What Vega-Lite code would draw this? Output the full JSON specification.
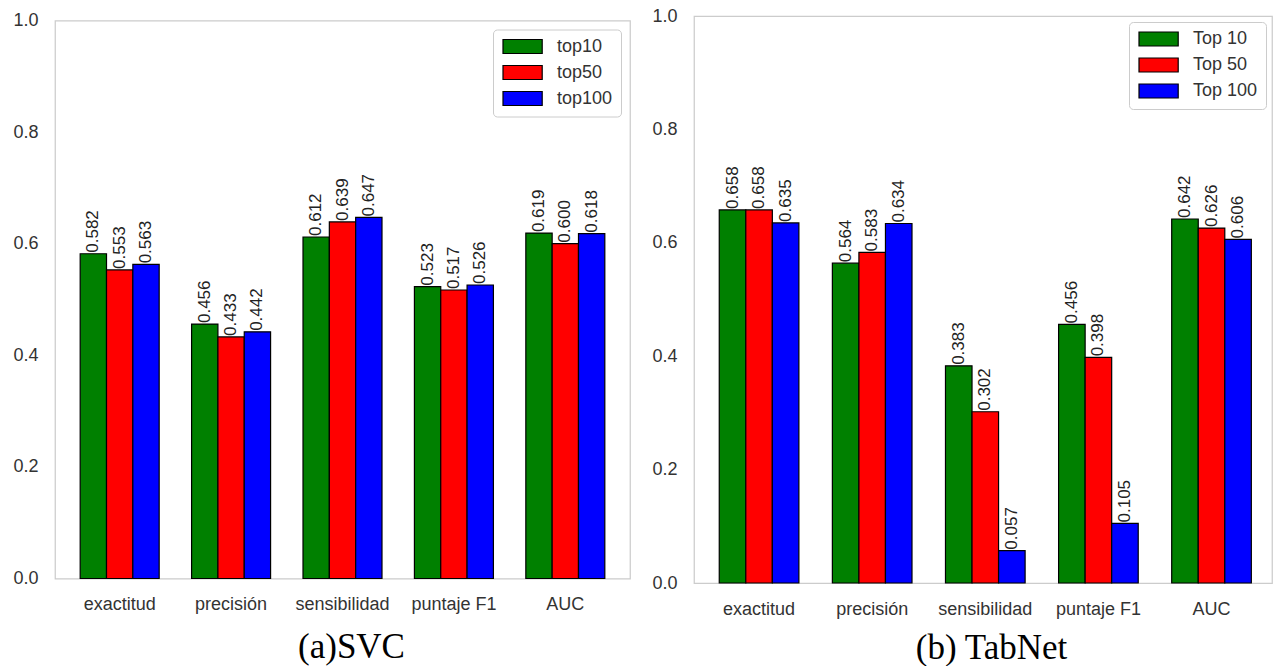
{
  "$schema": "https://vega.github.io/schema/vega-lite/v6.json",
  "padding": {"left": 12, "top": 6, "right": 0, "bottom": 0},
  "background": "white",
  "bounds": "flush",
  "center": true,
  "spacing": 64,
  "datasets": {
    "svc": [
      {"metric": "exactitud", "series": "top10", "value": 0.582},
      {"metric": "exactitud", "series": "top50", "value": 0.553},
      {"metric": "exactitud", "series": "top100", "value": 0.563},
      {"metric": "precisión", "series": "top10", "value": 0.456},
      {"metric": "precisión", "series": "top50", "value": 0.433},
      {"metric": "precisión", "series": "top100", "value": 0.442},
      {"metric": "sensibilidad", "series": "top10", "value": 0.612},
      {"metric": "sensibilidad", "series": "top50", "value": 0.639},
      {"metric": "sensibilidad", "series": "top100", "value": 0.647},
      {"metric": "puntaje F1", "series": "top10", "value": 0.523},
      {"metric": "puntaje F1", "series": "top50", "value": 0.517},
      {"metric": "puntaje F1", "series": "top100", "value": 0.526},
      {"metric": "AUC", "series": "top10", "value": 0.619},
      {"metric": "AUC", "series": "top50", "value": 0.600},
      {"metric": "AUC", "series": "top100", "value": 0.618}
    ],
    "tabnet": [
      {"metric": "exactitud", "series": "Top 10", "value": 0.658},
      {"metric": "exactitud", "series": "Top 50", "value": 0.658},
      {"metric": "exactitud", "series": "Top 100", "value": 0.635},
      {"metric": "precisión", "series": "Top 10", "value": 0.564},
      {"metric": "precisión", "series": "Top 50", "value": 0.583},
      {"metric": "precisión", "series": "Top 100", "value": 0.634},
      {"metric": "sensibilidad", "series": "Top 10", "value": 0.383},
      {"metric": "sensibilidad", "series": "Top 50", "value": 0.302},
      {"metric": "sensibilidad", "series": "Top 100", "value": 0.057},
      {"metric": "puntaje F1", "series": "Top 10", "value": 0.456},
      {"metric": "puntaje F1", "series": "Top 50", "value": 0.398},
      {"metric": "puntaje F1", "series": "Top 100", "value": 0.105},
      {"metric": "AUC", "series": "Top 10", "value": 0.642},
      {"metric": "AUC", "series": "Top 50", "value": 0.626},
      {"metric": "AUC", "series": "Top 100", "value": 0.606}
    ]
  },
  "resolve": {
    "scale": {"x": "independent", "y": "independent", "color": "independent", "xOffset": "independent"},
    "legend": {"color": "independent"}
  },
  "hconcat": [
    {
      "width": 575,
      "height": 558,
      "data": {"name": "svc"},
      "encoding": {
        "x": {
          "field": "metric", "type": "nominal",
          "sort": ["exactitud", "precisión", "sensibilidad", "puntaje F1", "AUC"],
          "scale": {"paddingInner": 0.291, "paddingOuter": 0.226, "align": 0.5},
          "axis": {"labelAngle": 0, "title": "(a)SVC", "titlePadding": 16, "titleX": 296}
        },
        "xOffset": {
          "field": "series", "type": "nominal",
          "scale": {"domain": ["top10", "top50", "top100"], "paddingInner": 0, "paddingOuter": 0}
        },
        "y": {
          "field": "value", "type": "quantitative",
          "scale": {"domain": [0, 1], "nice": false},
          "axis": {"values": [0, 0.2, 0.4, 0.6, 0.8, 1.0], "format": ".1f", "title": null}
        }
      },
      "layer": [
        {
          "mark": {"type": "bar", "stroke": "black", "strokeWidth": 1.2},
          "encoding": {
            "color": {
              "field": "series", "type": "nominal",
              "scale": {"domain": ["top10", "top50", "top100"], "range": ["#008000", "#ff0000", "#0000ff"]},
              "legend": {"title": null, "orient": "top-right", "offset": 9}
            }
          }
        },
        {
          "mark": {"type": "text", "angle": 270, "align": "left", "baseline": "middle", "dx": 1, "fontSize": 17, "color": "#222222"},
          "encoding": {"text": {"field": "value", "type": "quantitative", "format": ".3f"}}
        }
      ]
    },
    {
      "width": 578,
      "height": 567,
      "data": {"name": "tabnet"},
      "encoding": {
        "x": {
          "field": "metric", "type": "nominal",
          "sort": ["exactitud", "precisión", "sensibilidad", "puntaje F1", "AUC"],
          "scale": {"paddingInner": 0.296, "paddingOuter": 0.203, "align": 0.55},
          "axis": {"labelAngle": 0, "title": "(b) TabNet", "titlePadding": 12, "titleX": 297}
        },
        "xOffset": {
          "field": "series", "type": "nominal",
          "scale": {"domain": ["Top 10", "Top 50", "Top 100"], "paddingInner": 0, "paddingOuter": 0}
        },
        "y": {
          "field": "value", "type": "quantitative",
          "scale": {"domain": [0, 1], "nice": false},
          "axis": {"values": [0, 0.2, 0.4, 0.6, 0.8, 1.0], "format": ".1f", "title": null}
        }
      },
      "layer": [
        {
          "mark": {"type": "bar", "stroke": "black", "strokeWidth": 1.2},
          "encoding": {
            "color": {
              "field": "series", "type": "nominal",
              "scale": {"domain": ["Top 10", "Top 50", "Top 100"], "range": ["#008000", "#ff0000", "#0000ff"]},
              "legend": {"title": null, "orient": "top-right", "offset": 6}
            }
          }
        },
        {
          "mark": {"type": "text", "angle": 270, "align": "left", "baseline": "middle", "dx": 1, "fontSize": 17, "color": "#222222"},
          "encoding": {"text": {"field": "value", "type": "quantitative", "format": ".3f"}}
        }
      ]
    }
  ],
  "config": {
    "font": "Liberation Sans",
    "view": {"stroke": "#cccccc", "strokeWidth": 1.25},
    "axis": {
      "labelFontSize": 18, "labelColor": "#333333", "domain": false, "ticks": false, "grid": false,
      "labelPadding": 17, "titleFont": "Liberation Serif", "titleFontSize": 35, "titleFontWeight": "normal", "titleColor": "black"
    },
    "legend": {
      "labelFontSize": 18, "labelColor": "#333333",
      "symbolType": "M-1,-1H4.6V1H-1Z", "symbolSize": 196,
      "symbolStrokeColor": "black", "symbolStrokeWidth": 1.2, "symbolOpacity": 1,
      "labelOffset": 38, "rowPadding": 6, "padding": 8,
      "strokeColor": "#cccccc", "fillColor": "white", "cornerRadius": 4
    }
  }
}
